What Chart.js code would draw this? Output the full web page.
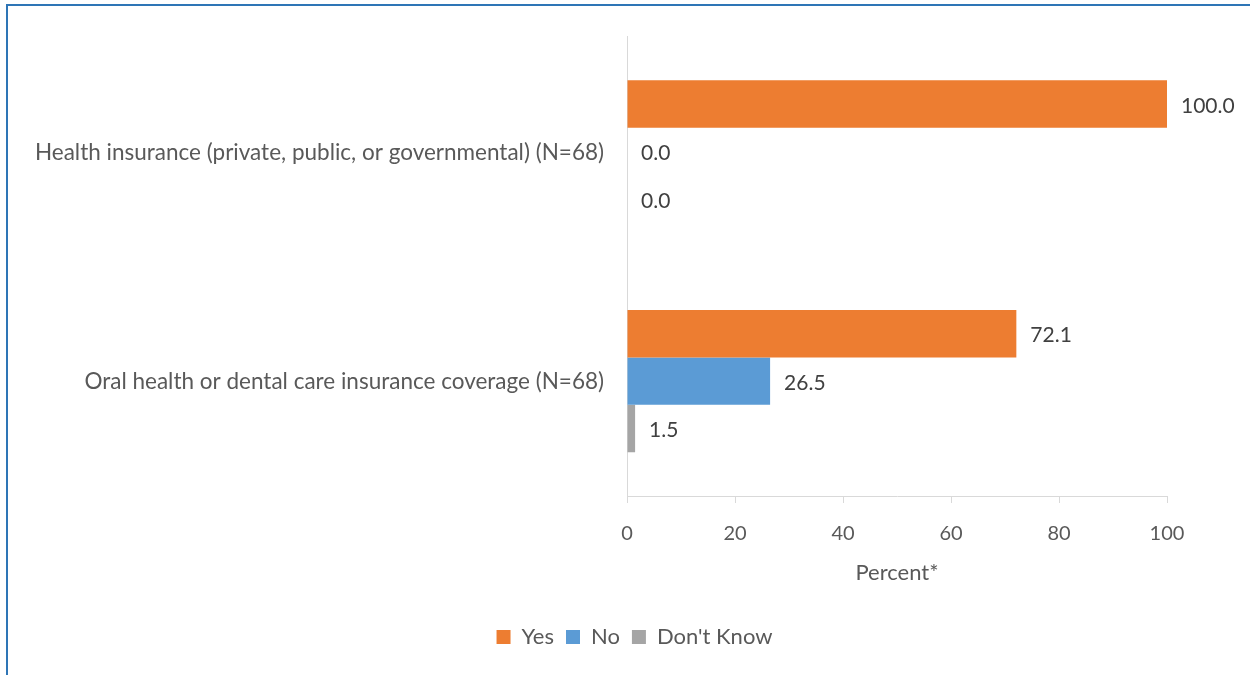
<!DOCTYPE html>
<html>
<head>
<meta charset="utf-8">
<script src="https://cdn.jsdelivr.net/npm/chart.js@4"></script>
<style>
    html, body { margin: 0; padding: 0; background: #fff; }
    #wrap { position: relative; width: 1250px; height: 675px; overflow: hidden; }
    #frame { position: absolute; left: 6px; top: 4px; width: 1400px; height: 800px; border: 2px solid #2E75B6; }
    #chart { position: absolute; left: 0; top: 0; }
</style>
</head>
<body>
<div id="wrap">
    <div id="frame"></div>
    <canvas id="chart" width="1250" height="675"></canvas>
</div>
<script>
const categories = [
    'Health insurance (private, public, or governmental) (N=68)',
    'Oral health or dental care insurance coverage (N=68)'
];
const seriesNames = ['Yes', 'No', "Don't Know"];
const yesValues = [100.0, 72.1];
const noValues = [0.0, 26.5];
const dontKnowValues = [0.0, 1.5];
const xTicks = [0, 20, 40, 60, 80, 100];

const FONT = 'Lato';
const TEXT = '#595959';

const dataLabels = {
    id: 'dataLabels',
    afterDatasetsDraw(chart) {
        const ctx = chart.ctx;
        ctx.save();
        ctx.font = '21px ' + FONT;
        ctx.fillStyle = '#404040';
        ctx.textAlign = 'left';
        ctx.textBaseline = 'middle';
        chart.data.datasets.forEach((ds, i) => {
            chart.getDatasetMeta(i).data.forEach((bar, j) => {
                ctx.fillText(ds.data[j].toFixed(1), bar.x + 14, bar.y + 2);
            });
        });
        ctx.restore();
    }
};

// legend sits a little right of the canvas centre in the original
const legendShift = {
    id: 'legendShift',
    afterLayout(chart) {
        chart.legend.left += 41;
        chart.legend.right += 41;
    }
};

let ctx = document.getElementById('chart');
let chart = new Chart(ctx, {
    type: 'bar',
    data: {
        labels: categories,
        datasets: [
            { label: seriesNames[0], data: yesValues, backgroundColor: '#ED7D31' },
            { label: seriesNames[1], data: noValues, backgroundColor: '#5B9BD5' },
            { label: seriesNames[2], data: dontKnowValues, backgroundColor: '#A5A5A5' }
        ]
    },
    options: {
        indexAxis: 'y',
        responsive: false,
        animation: false,
        categoryPercentage: 0.62,
        barPercentage: 1,
        layout: { padding: { left: 20, right: 83, top: 36, bottom: 17 } },
        plugins: {
            tooltip: { enabled: false },
            legend: {
                position: 'bottom',
                labels: {
                    boxWidth: 14,
                    boxHeight: 14,
                    padding: 12,
                    color: TEXT,
                    font: { family: FONT, size: 22 }
                }
            }
        },
        scales: {
            x: {
                min: 0,
                max: 100,
                afterBuildTicks: (scale) => { scale.ticks = xTicks.map(v => ({ value: v })); },
                afterFit: (scale) => { scale.height = 118; },
                grid: { drawOnChartArea: false, drawTicks: true, tickLength: 7, color: '#D9D9D9' },
                border: { color: '#D9D9D9' },
                ticks: { color: TEXT, padding: 19, font: { family: FONT, size: 20 } },
                title: {
                    display: true,
                    text: 'Percent*',
                    color: TEXT,
                    padding: { bottom: 28 },
                    font: { family: FONT, size: 22 }
                }
            },
            y: {
                afterFit: (scale) => { scale.width = 607; },
                grid: { drawOnChartArea: false, drawTicks: false },
                border: { color: '#D9D9D9' },
                ticks: { color: TEXT, padding: 23, labelOffset: 1, font: { family: FONT, size: 22.5 } }
            }
        }
    },
    plugins: [dataLabels, legendShift]
});
</script>
</body>
</html>
